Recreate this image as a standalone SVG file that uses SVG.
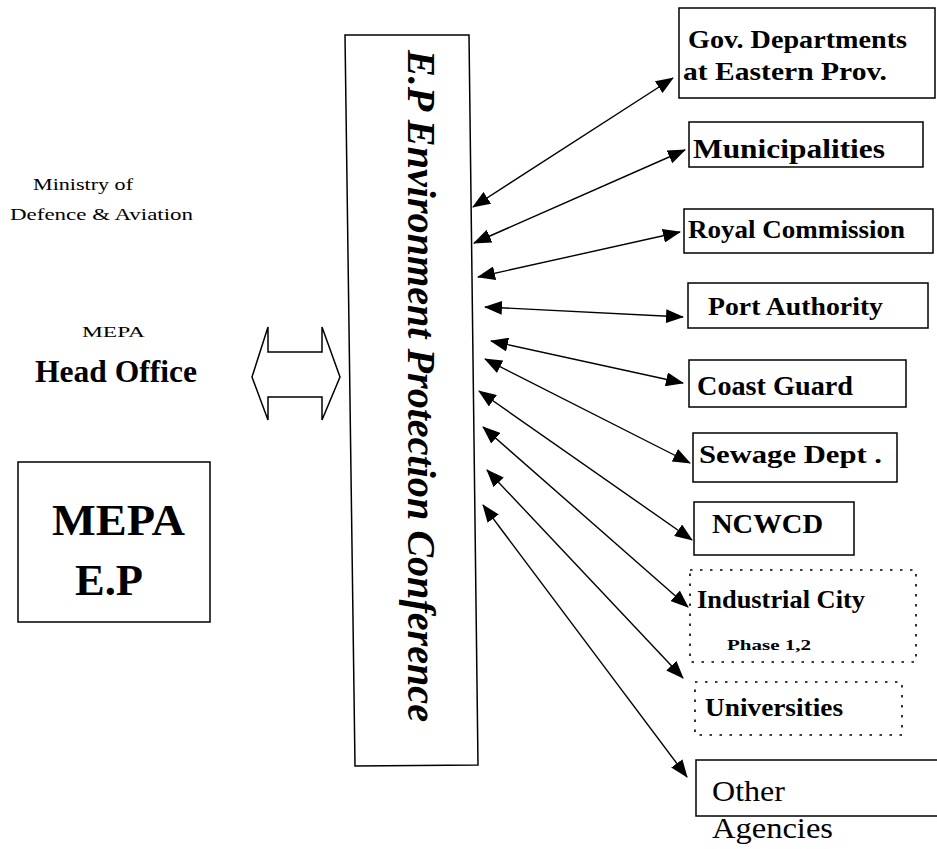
<svg xmlns="http://www.w3.org/2000/svg" width="937" height="849" viewBox="0 0 937 849">
<style>
  .bg{fill:#fff}
  .box{fill:#fff;stroke:#000;stroke-width:1.5}
  .dot{fill:#fff;stroke:#000;stroke-width:1.6;stroke-dasharray:2.5 7.5}
  .t{font-family:"Liberation Serif","Times New Roman",serif;fill:#000}
  .b{font-weight:bold}
  .conn line{stroke:#000;stroke-width:1.4;marker-start:url(#ah);marker-end:url(#ah)}
</style>
<defs>
  <marker id="ah" viewBox="0 0 18 14" refX="17" refY="7" markerWidth="18" markerHeight="14" markerUnits="userSpaceOnUse" orient="auto-start-reverse">
    <path d="M0,0 L18,7 L0,14 z" fill="#000"/>
  </marker>
</defs>
<rect class="bg" x="0" y="0" width="937" height="849"/>

<g id="ministry">
  <text class="t" x="33" y="190" font-size="16" textLength="100" lengthAdjust="spacingAndGlyphs">Ministry of</text>
  <text class="t" x="10" y="220" font-size="16" textLength="183" lengthAdjust="spacingAndGlyphs">Defence &amp; Aviation</text>
</g>

<g id="head-office">
  <text class="t" x="82" y="337" font-size="15" textLength="63" lengthAdjust="spacingAndGlyphs">MEPA</text>
  <text class="t b" x="35" y="382" font-size="32" textLength="162" lengthAdjust="spacingAndGlyphs">Head Office</text>
</g>

<g id="double-arrow">
  <polygon class="box" points="252,377 268,327 268,352 322,352 322,327 340,377 322,420 322,397 268,397 268,420"/>
</g>

<g id="mepa-ep">
  <rect class="box" x="18" y="462" width="192" height="160"/>
  <text class="t b" x="52" y="535" font-size="45" textLength="133" lengthAdjust="spacingAndGlyphs">MEPA</text>
  <text class="t b" x="75" y="595" font-size="45" textLength="68" lengthAdjust="spacingAndGlyphs">E.P</text>
</g>

<g id="conference">
  <polygon class="box" points="345,35 469,35 478,765 355,766"/>
  <text class="t b" font-style="italic" font-size="40" transform="translate(408,50) rotate(90)" textLength="672" lengthAdjust="spacingAndGlyphs">E.P Environment Protection Conference</text>
</g>

<g id="gov">
  <rect class="box" x="679" y="8" width="256" height="90"/>
  <text class="t b" x="688" y="48" font-size="25" textLength="219" lengthAdjust="spacingAndGlyphs">Gov. Departments</text>
  <text class="t b" x="683" y="80" font-size="25" textLength="204" lengthAdjust="spacingAndGlyphs">at Eastern Prov.</text>
</g>

<g id="municipalities">
  <rect class="box" x="689" y="122" width="234" height="45"/>
  <text class="t b" x="693" y="158" font-size="28" textLength="192" lengthAdjust="spacingAndGlyphs">Municipalities</text>
</g>

<g id="royal">
  <rect class="box" x="684" y="209" width="249" height="44"/>
  <text class="t b" x="688" y="238" font-size="26" textLength="217" lengthAdjust="spacingAndGlyphs">Royal Commission</text>
</g>

<g id="port">
  <rect class="box" x="688" y="283" width="240" height="45"/>
  <text class="t b" x="708" y="315" font-size="26" textLength="175" lengthAdjust="spacingAndGlyphs">Port Authority</text>
</g>

<g id="coast">
  <rect class="box" x="689" y="360" width="217" height="47"/>
  <text class="t b" x="697" y="395" font-size="27" textLength="156" lengthAdjust="spacingAndGlyphs">Coast Guard</text>
</g>

<g id="sewage">
  <rect class="box" x="693" y="433" width="204" height="49"/>
  <text class="t b" x="699" y="463" font-size="26" textLength="183" lengthAdjust="spacingAndGlyphs">Sewage Dept .</text>
</g>

<g id="ncwcd">
  <rect class="box" x="694" y="502" width="160" height="53"/>
  <text class="t b" x="712" y="533" font-size="27" textLength="111" lengthAdjust="spacingAndGlyphs">NCWCD</text>
</g>

<g id="industrial">
  <rect class="dot" x="690" y="570" width="226" height="92"/>
  <text class="t b" x="697" y="608" font-size="26" textLength="168" lengthAdjust="spacingAndGlyphs">Industrial City</text>
  <text class="t b" x="727" y="650" font-size="15" textLength="84" lengthAdjust="spacingAndGlyphs">Phase 1,2</text>
</g>

<g id="universities">
  <rect class="dot" x="695" y="682" width="207" height="53"/>
  <text class="t b" x="705" y="716" font-size="26" textLength="138" lengthAdjust="spacingAndGlyphs">Universities</text>
</g>

<g id="other">
  <rect class="box" x="696" y="760" width="245" height="56"/>
  <text class="t" x="712" y="801" font-size="29" textLength="73" lengthAdjust="spacingAndGlyphs">Other</text>
  <text class="t" x="712" y="838" font-size="30" textLength="121" lengthAdjust="spacingAndGlyphs">Agencies</text>
</g>

<g id="connectors" class="conn">
  <line x1="473" y1="207" x2="673" y2="78"/>
  <line x1="474" y1="243" x2="685" y2="150"/>
  <line x1="478" y1="277" x2="680" y2="232"/>
  <line x1="485" y1="307" x2="683" y2="317"/>
  <line x1="491" y1="341" x2="683" y2="383"/>
  <line x1="485" y1="359" x2="690" y2="463"/>
  <line x1="479" y1="391" x2="692" y2="540"/>
  <line x1="483" y1="427" x2="688" y2="607"/>
  <line x1="487" y1="470" x2="683" y2="678"/>
  <line x1="483" y1="505" x2="687" y2="777"/>
</g>
</svg>
